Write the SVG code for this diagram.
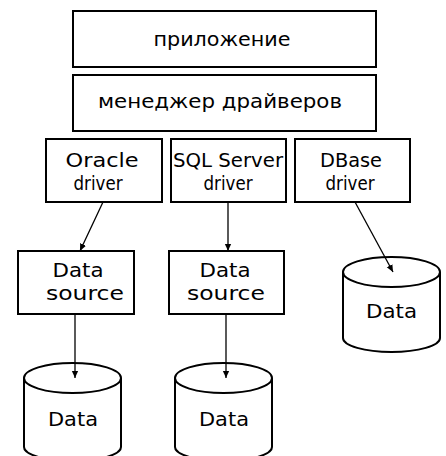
<svg xmlns="http://www.w3.org/2000/svg" width="446" height="456" viewBox="0 0 446 456">
<style>
.box{fill:#fff;stroke:#000;stroke-width:2}
.cyl{fill:#fff;stroke:#000;stroke-width:2}
.t{font-family:"DejaVu Sans","Liberation Sans",sans-serif;font-size:19px;fill:#000;text-anchor:middle}
.c{stroke:#000;stroke-width:1.3;fill:none;marker-end:url(#ah)}
</style>
<defs>
<marker id="ah" viewBox="0 0 10 10" refX="9" refY="5" markerWidth="8" markerHeight="8" markerUnits="userSpaceOnUse" orient="auto">
<path d="M0,1 L9,5 L0,9 z" fill="#000"/>
</marker>
</defs>
<rect width="446" height="456" fill="#fff"/>
<g id="app"><rect class="box" x="73" y="11" width="303" height="56"/><text class="t" x="222" y="46" textLength="137" lengthAdjust="spacingAndGlyphs">приложение</text></g>
<g id="manager"><rect class="box" x="73" y="75" width="303" height="56"/><text class="t" x="220" y="108" textLength="244" lengthAdjust="spacingAndGlyphs">менеджер драйверов</text></g>
<g id="oracle"><rect class="box" x="46" y="139" width="116" height="63"/><text class="t" x="102" y="167" textLength="73" lengthAdjust="spacingAndGlyphs">Oracle</text><text class="t" x="98" y="190" textLength="49" lengthAdjust="spacingAndGlyphs">driver</text></g>
<g id="sqlserver"><rect class="box" x="171" y="139" width="115" height="63"/><text class="t" x="228" y="167" textLength="110" lengthAdjust="spacingAndGlyphs">SQL Server</text><text class="t" x="228" y="190" textLength="49" lengthAdjust="spacingAndGlyphs">driver</text></g>
<g id="dbase"><rect class="box" x="295" y="139" width="115" height="63"/><text class="t" x="351" y="167" textLength="62" lengthAdjust="spacingAndGlyphs">DBase</text><text class="t" x="350" y="190" textLength="49" lengthAdjust="spacingAndGlyphs">driver</text></g>
<g id="ds1"><rect class="box" x="18" y="251" width="116" height="63"/><text class="t" x="78" y="277" textLength="51" lengthAdjust="spacingAndGlyphs">Data</text><text class="t" x="85" y="300" textLength="78" lengthAdjust="spacingAndGlyphs">source</text></g>
<g id="ds2"><rect class="box" x="169" y="251" width="115" height="63"/><text class="t" x="225" y="277" textLength="51" lengthAdjust="spacingAndGlyphs">Data</text><text class="t" x="226" y="300" textLength="78" lengthAdjust="spacingAndGlyphs">source</text></g>
<g id="data3"><path class="cyl" d="M343,272 L343,338 A48.5,14 0 0 0 440,338 L440,272 A48.5,15 0 0 0 343,272 A48.5,15 0 0 0 440,272"/><text class="t" x="391.5" y="318" textLength="51" lengthAdjust="spacingAndGlyphs">Data</text></g>
<g id="data1"><path class="cyl" d="M24,378 L24,447 A48.5,14 0 0 0 121,447 L121,378 A48.5,15 0 0 0 24,378 A48.5,15 0 0 0 121,378"/><text class="t" x="73" y="426" textLength="50" lengthAdjust="spacingAndGlyphs">Data</text></g>
<g id="data2"><path class="cyl" d="M175,378 L175,447 A48.5,14 0 0 0 272,447 L272,378 A48.5,15 0 0 0 175,378 A48.5,15 0 0 0 272,378"/><text class="t" x="224" y="426" textLength="50" lengthAdjust="spacingAndGlyphs">Data</text></g>
<g id="connectors">
<path class="c" d="M103,202 L80,251"/>
<path class="c" d="M228,202 L228,251"/>
<path class="c" d="M355,202 L393,272"/>
<path class="c" d="M75,314 L75,378"/>
<path class="c" d="M226,314 L226,378"/>
</g>
</svg>
